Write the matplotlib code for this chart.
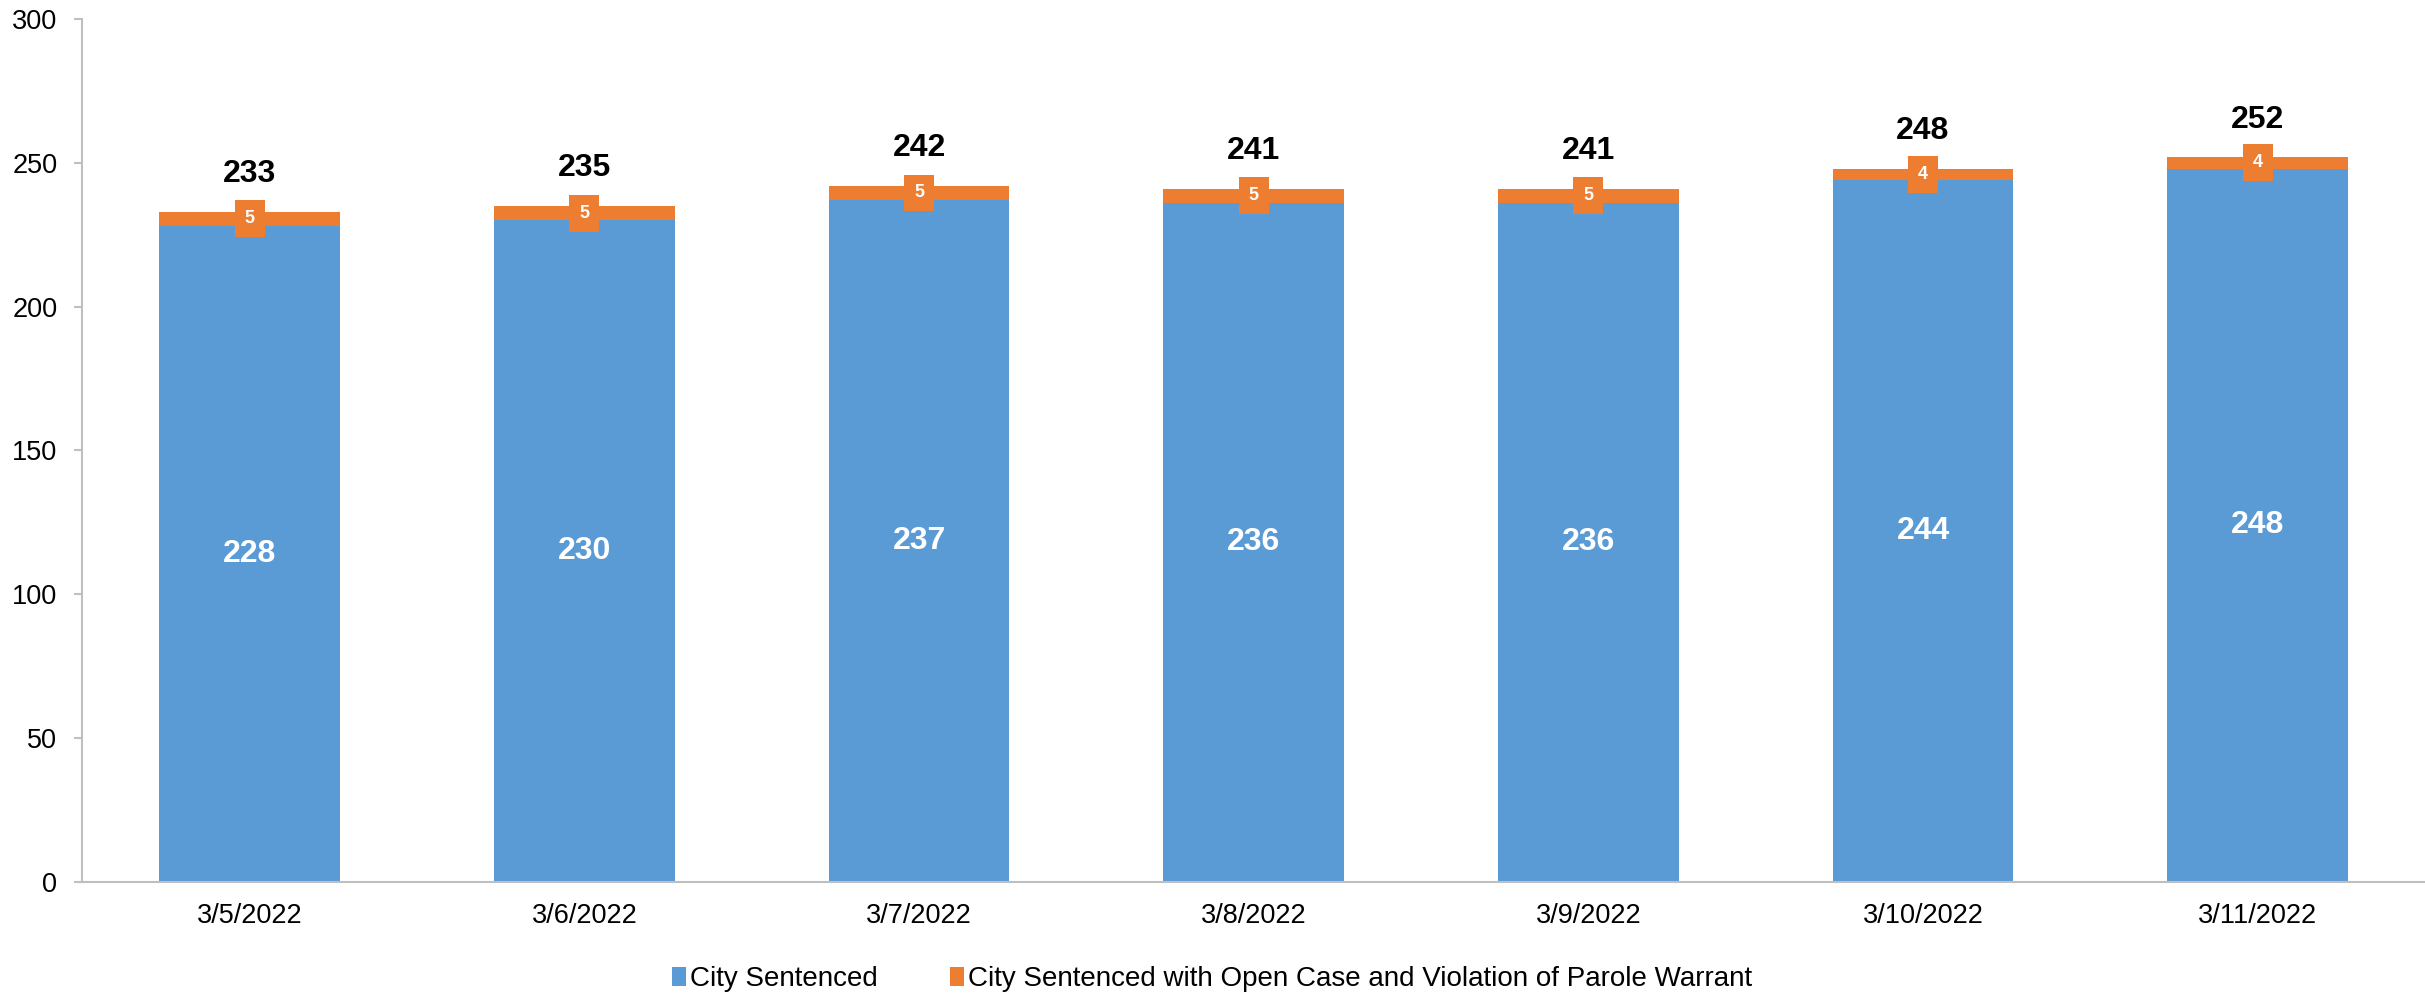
import matplotlib
import matplotlib.pyplot as plt

matplotlib.use("Agg")

plt.rcParams["font.family"] = ["Liberation Sans", "DejaVu Sans"]

# --- data ---
dates = ["3/5/2022", "3/6/2022", "3/7/2022", "3/8/2022",
         "3/9/2022", "3/10/2022", "3/11/2022"]
city_sentenced = [228, 230, 237, 236, 236, 244, 248]
open_case_vop = [5, 5, 5, 5, 5, 4, 4]

BLUE = "#5B9BD5"
ORANGE = "#ED7D31"
GREY = "#BFBFBF"

fig = plt.figure(figsize=(24.25, 9.96), dpi=100)
ax = fig.add_axes([0.034, 0.1145, 0.966, 0.8665])

x = list(range(len(dates)))
width = 0.54
totals = [a + b for a, b in zip(city_sentenced, open_case_vop)]

b1 = ax.bar(x, city_sentenced, width, color=BLUE, label="City Sentenced")
b2 = ax.bar(x, open_case_vop, width, bottom=city_sentenced, color=ORANGE,
            label="City Sentenced with Open Case and Violation of Parole Warrant")

# white labels inside blue segment
for xi, v in zip(x, city_sentenced):
    ax.text(xi, v / 2, str(v), ha="center", va="center",
            color="white", fontsize=23, fontweight="bold")

# boxed labels on orange segment
for xi, base, v in zip(x, city_sentenced, open_case_vop):
    ax.text(xi, base + v / 2, str(v), ha="center", va="center",
            color="white", fontsize=13, fontweight="bold",
            bbox=dict(boxstyle="square,pad=0.55", fc=ORANGE, ec="none"))

# totals above bars
for xi, t in zip(x, totals):
    ax.annotate(str(t), (xi, t), xytext=(0, 27), textcoords="offset points",
                ha="center", va="center", fontsize=23, fontweight="bold",
                color="black")

ax.set_xlim(-0.5, len(dates) - 0.5)
ax.set_ylim(0, 300)
ax.set_yticks(range(0, 301, 50))
ax.set_xticks(x)
ax.set_xticklabels(dates)

for side in ("top", "right"):
    ax.spines[side].set_visible(False)
for side in ("left", "bottom"):
    ax.spines[side].set_color(GREY)
    ax.spines[side].set_linewidth(1.5)

ax.tick_params(axis="y", colors=GREY, labelcolor="black", labelsize=19.5,
               length=6, width=1.5, pad=12)
ax.tick_params(axis="x", length=0, labelsize=19.5, pad=15)

fig.legend(handles=[b1, b2], loc="center", bbox_to_anchor=(0.5, 0.017),
           ncol=2, frameon=False, fontsize=20, handlelength=0.5,
           handleheight=0.7, handletextpad=0.15, columnspacing=2.6)

fig.savefig("out.png", dpi=100)
